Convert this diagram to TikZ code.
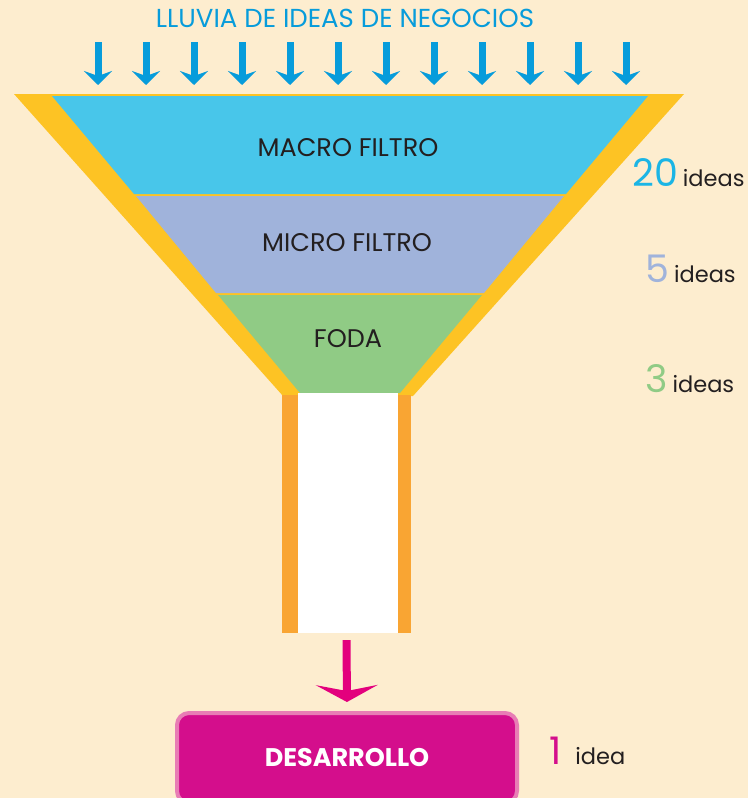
\documentclass[tikz,border=0pt]{standalone}
\usepackage{fontspec}
\setmainfont{Poppins}
\usepackage{tikz}
\usetikzlibrary{arrows.meta}
\usetikzlibrary{positioning}
\definecolor{bgC}{HTML}{FDEDCF}
\definecolor{yellowC}{HTML}{FDC324}
\definecolor{macroC}{HTML}{48C6EA}
\definecolor{microC}{HTML}{A0B3DB}
\definecolor{fodaC}{HTML}{90CB85}
\definecolor{tubeC}{HTML}{F9A533}
\definecolor{rainC}{HTML}{079CDB}
\definecolor{devC}{HTML}{D40E8C}
\definecolor{devBorderC}{HTML}{E87DB5}
\definecolor{pinkC}{HTML}{E3007D}
\definecolor{darkC}{HTML}{231F20}
\definecolor{twentyC}{HTML}{1BB5E5}
\newcommand{\bignum}{\fontsize{38}{38}\selectfont}

\begin{document}
\begin{tikzpicture}[
        x=1pt,y=-1pt,
        layerS/.style={
            text=darkC,
            inner sep=0pt,
            font=\fontsize{25.5}{25.5}\selectfont
        },
        countS/.style={
            text=darkC,
            inner sep=0pt,
            anchor=base west,
            font=\fontsize{22.5}{22.5}\selectfont
        },
        rainS/.style={
            rainC,
            line width=7pt,
            -{Stealth[length=14pt,width=28pt,inset=5pt]}
        },
        pinkS/.style={
            pinkC,
            line width=8pt,
            -{Stealth[length=17pt,width=62pt,inset=6pt]}
        },
        tubeS/.style={
            fill=tubeC,
            inner sep=0pt,
            minimum width=129pt,
            minimum height=238pt
        },
        devS/.style={
            rectangle,
            rounded corners=12pt,
            fill=devC,
            draw=devBorderC,
            line width=4pt,
            text=white,
            font=\bfseries\fontsize{25.5}{25.5}\selectfont,
            minimum width=340pt,
            minimum height=90pt
        },
    ]

    \clip (0,0) rectangle (748,798);
    \fill[bgC] (0,0) rectangle (748,798);

    % title and rain of ideas
    \node[text=rainC,font=\fontsize{26}{26}\selectfont] (title) at (345,18) {LLUVIA DE IDEAS DE NEGOCIOS};
    \foreach \i in {0,...,11}{
        \coordinate (rain\i) at ({98+48*\i},42);
        \draw[rainS] (rain\i) -- ++(0,43);
    }

    % funnel
    \fill[yellowC] (14,94) -- (684,94) -- (413,396) -- (283,396) -- cycle;
    \fill[macroC] (52,96) -- (648,96) -- (566,194) -- (134,194) -- cycle;
    \fill[microC] (136,196) -- (564,196) -- (484,293) -- (216,293) -- cycle;
    \fill[fodaC] (218,295) -- (482,295) -- (400,393) -- (300,393) -- cycle;

    \node[layerS] (macro) at (348,148) {MACRO FILTRO};
    \node[layerS] (micro) at (347,243) {MICRO FILTRO};
    \node[layerS] (foda) at (348,339) {FODA};

    % tube
    \node[tubeS] (tube) at (346.5,514) {};
    \fill[white] (298,393) rectangle (398,633);

    % result
    \node[devS] (dev) at (347,758) {DESARROLLO};
    \draw[pinkS,shorten <=7pt,shorten >=9pt] (tube.south) -- (dev.north);

    % counts
    \node[countS] (n20) at (632,186) {\textcolor{twentyC}{\bignum 20}\hspace{5pt}ideas};
    \node[countS] (n5) at (645,282) {\textcolor{microC}{\bignum 5}\hspace{5pt}ideas};
    \node[countS] (n3) at (645,392) {\textcolor{fodaC}{\bignum 3}\hspace{5pt}ideas};
    \node[countS] (n1) at (549,764) {\textcolor{devC}{\bignum 1}\hspace{14pt}idea};

\end{tikzpicture}
\end{document}
